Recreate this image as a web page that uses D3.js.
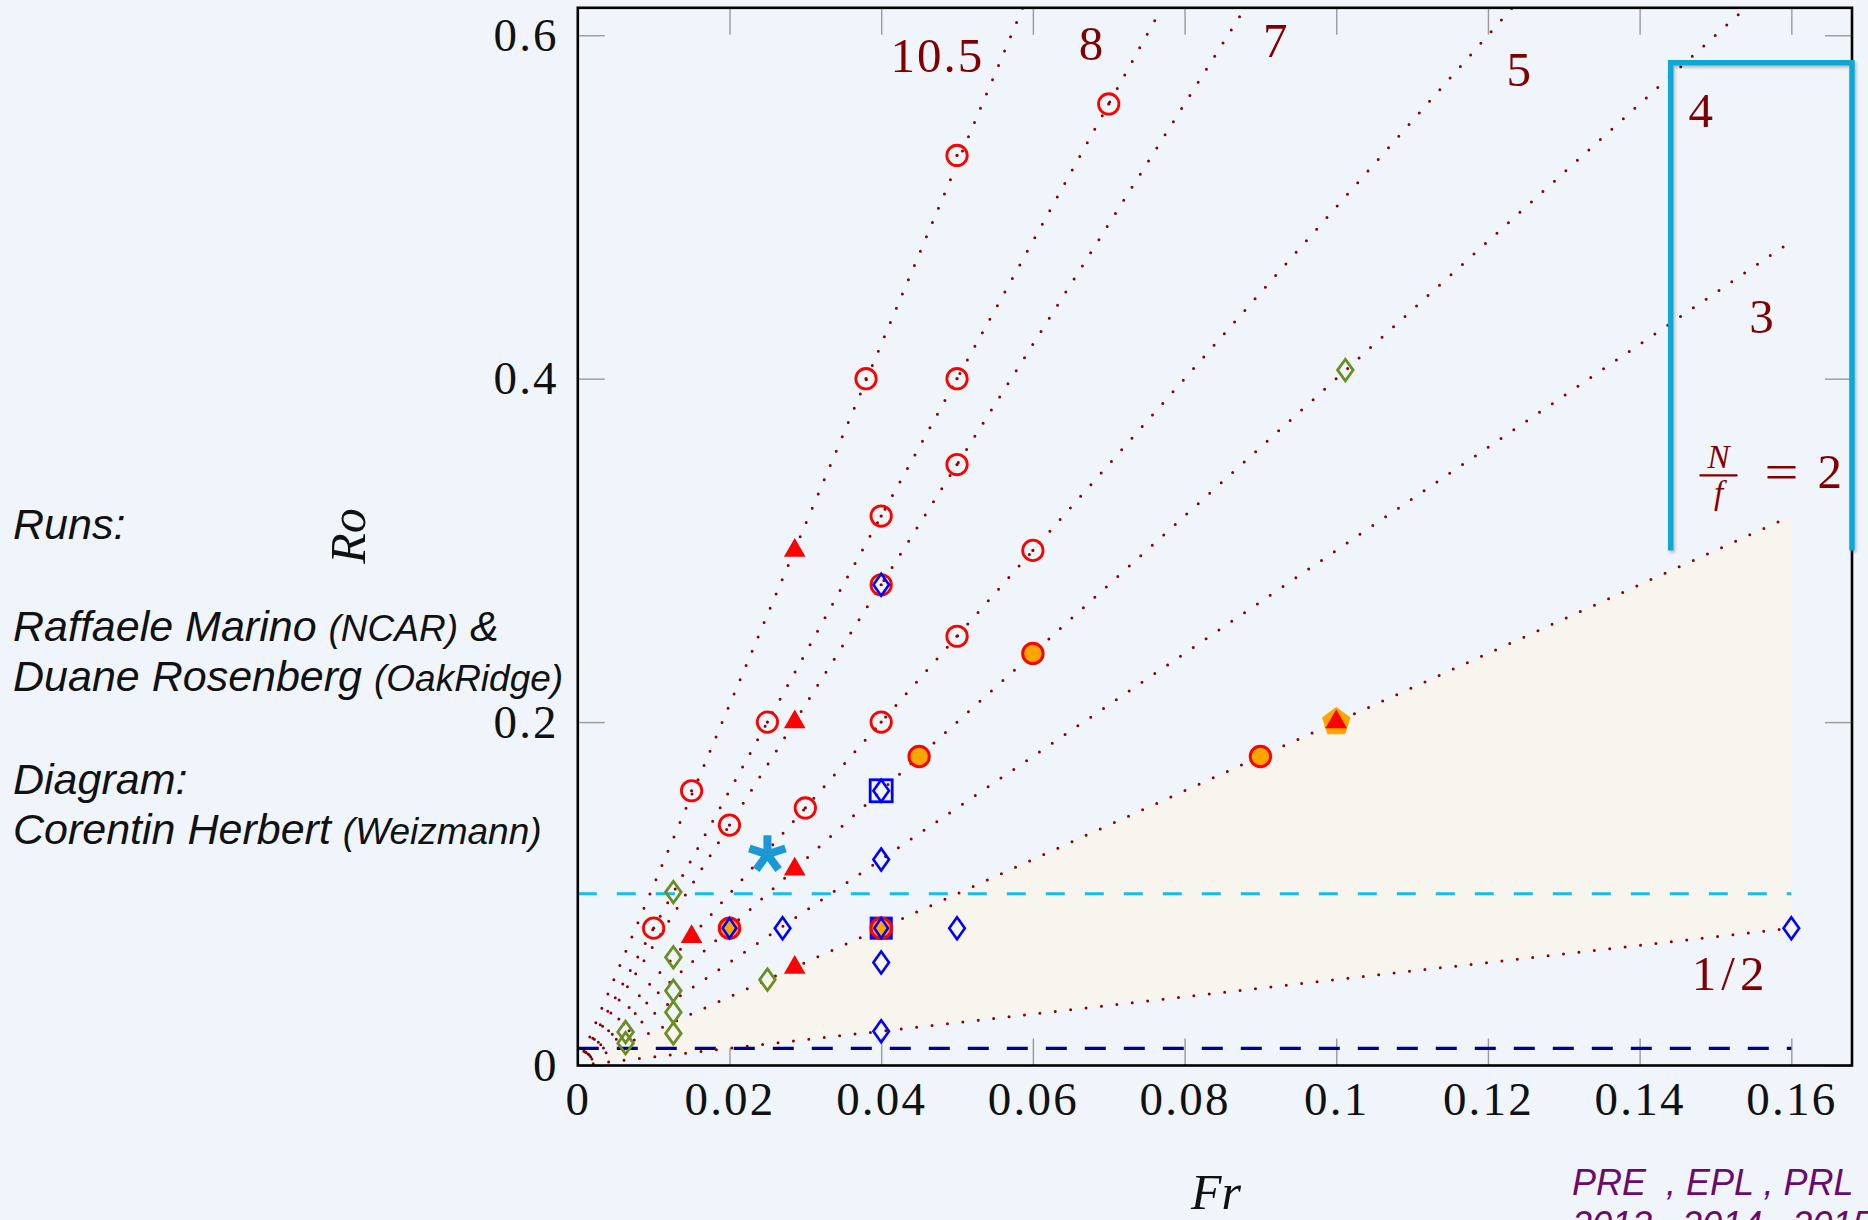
<!DOCTYPE html>
<html><head><meta charset="utf-8">
<script src="https://cdn.jsdelivr.net/npm/d3@7"></script>
<style>
html,body{margin:0;padding:0;background:#eff5fa;}
svg{display:block;}
</style></head><body>
<svg id="chart" width="1868" height="1220"></svg>
<script>
// ---------------- data ----------------
const ratios = [10.5, 8, 7, 5, 4, 3, 2, 0.5];            // N/f lines: Ro = (N/f) * Fr
const ratioLabelText = ["10.5", "8", "7", "5", "4", "3", "N/f = 2", "1/2"];
const ratioLabelFr = [0.0474, 0.0678, 0.0921, 0.1242, 0.1482, 0.1562, 0.1504, 0.152];
const ratioLabelRo = [0.588, 0.595, 0.5965, 0.580, 0.556, 0.436, 0.3437, 0.0534];
const frLineMax = 0.16;
const fillRatios = [0.5, 2];

const xTicks = [0, 0.02, 0.04, 0.06, 0.08, 0.1, 0.12, 0.14, 0.16];
const xTickLabels = ["0", "0.02", "0.04", "0.06", "0.08", "0.1", "0.12", "0.14", "0.16"];
const yTicks = [0, 0.2, 0.4, 0.6];
const yTickLabels = ["0", "0.2", "0.4", "0.6"];

const redOpenCircles = [[0.05,0.53],[0.07,0.56],[0.038,0.4],[0.05,0.4],[0.05,0.35],[0.04,0.32],
  [0.06,0.3],[0.04,0.28],[0.05,0.25],[0.025,0.2],[0.04,0.2],[0.015,0.16],[0.02,0.14],[0.03,0.15],[0.01,0.08]];
const orangeCircles = [[0.06,0.24],[0.045,0.18],[0.09,0.18],[0.02,0.08],[0.04,0.08]];
const redTriangles = [[0.0286,0.3],[0.0286,0.2],[0.0286,0.1143],[0.0286,0.0571],[0.015,0.075],[0.1,0.2]];
const orangePentagons = [[0.1,0.2]];
const blueOpenSquares = [[0.04,0.16]];
const blueFilledSquares = [[0.04,0.08]];
const blueOpenDiamonds = [[0.04,0.28],[0.04,0.16],[0.04,0.12],[0.027,0.08],[0.04,0.06],[0.05,0.08],[0.04,0.02],[0.16,0.08]];
const blueOrangeDiamonds = [[0.02,0.08],[0.04,0.08]];
const greenDiamonds = [[0.1012,0.405],[0.0126,0.101],[0.0126,0.063],[0.0126,0.0435],[0.0126,0.031],
  [0.0126,0.0187],[0.0063,0.0195],[0.0063,0.013],[0.025,0.05]];
const asterisks = [[0.025,0.123]];

const cyanLevel = 0.1;
const navyLevel = 0.01;
const bracketFr = [0.1441, 0.168];
const bracketRo = [0.3, 0.584];

const xDomain = [0, 0.168];
const yDomain = [0, 0.616];

// ---------------- layout ----------------
const svg = d3.select("#chart");
const L = 577.8, R = 1852, T = 7.8, B = 1065.5;
const x = d3.scaleLinear().domain(xDomain).range([L, R]);
const y = d3.scaleLinear().domain(yDomain).range([B, T]);
const serif = "'Liberation Serif', 'Times New Roman', serif";
const sans = "'Liberation Sans', Arial, sans-serif";
const maroon = "#8b0000";

svg.append("rect").attr("width", 1868).attr("height", 1220).attr("fill", "#eff5fa");

const defs = svg.append("defs");
defs.append("clipPath").attr("id", "plotclip").append("rect")
  .attr("x", L).attr("y", T).attr("width", R - L).attr("height", B - T);
const sh = defs.append("filter").attr("id", "shadow").attr("x", "-20%").attr("y", "-5%").attr("width", "140%").attr("height", "110%");
sh.append("feDropShadow").attr("dx", 1.5).attr("dy", 2).attr("stdDeviation", 1.5).attr("flood-color", "#000").attr("flood-opacity", 0.25);

// ---- axes (ticks inside) ----
const TL = 27;
function styleAxis(g) {
  g.select(".domain").remove();
  g.selectAll(".tick line").attr("stroke", "#9a9a9a").attr("stroke-width", 1.4);
  g.selectAll("text").attr("font-family", serif).attr("font-size", 47).attr("fill", "#111")
    .attr("letter-spacing", 2.2);
}
const xb = svg.append("g").attr("transform", `translate(0,${B})`)
  .call(d3.axisBottom(x).tickValues(xTicks).tickFormat((d, i) => xTickLabels[i]).tickSizeInner(-TL).tickSizeOuter(0).tickPadding(16));
styleAxis(xb);
const yl = svg.append("g").attr("transform", `translate(${L},0)`)
  .call(d3.axisLeft(y).tickValues(yTicks).tickFormat((d, i) => yTickLabels[i]).tickSizeInner(-TL).tickSizeOuter(0).tickPadding(19));
styleAxis(yl);
const xt = svg.append("g").attr("transform", `translate(0,${T})`)
  .call(d3.axisTop(x).tickValues(xTicks).tickFormat("").tickSizeInner(-TL).tickSizeOuter(0));
styleAxis(xt);
const yr = svg.append("g").attr("transform", `translate(${R},0)`)
  .call(d3.axisRight(y).tickValues(yTicks).tickFormat("").tickSizeInner(-TL).tickSizeOuter(0));
styleAxis(yr);

const plot = svg.append("g").attr("clip-path", "url(#plotclip)");

// ---- beige fill between N/f = 1/2 and N/f = 2 ----
const fillArea = d3.area()
  .x(d => x(d))
  .y0(d => y(fillRatios[0] * d))
  .y1(d => y(fillRatios[1] * d));
plot.append("path").datum([0, frLineMax]).attr("d", fillArea).attr("fill", "#f8f5ee");

// ---- dashed horizontal levels ----
plot.append("line").attr("x1", x(0)).attr("x2", x(frLineMax)).attr("y1", y(cyanLevel)).attr("y2", y(cyanLevel))
  .attr("stroke", "#14bdf0").attr("stroke-width", 3).attr("stroke-dasharray", "19 20");
plot.append("line").attr("x1", x(0)).attr("x2", x(frLineMax)).attr("y1", y(navyLevel)).attr("y2", y(navyLevel))
  .attr("stroke", "#00008b").attr("stroke-width", 3.4).attr("stroke-dasharray", "21 18");

// ---- dotted N/f lines ----
const lineGen = d3.line().x(d => x(d[0])).y(d => y(d[1]));
plot.selectAll("path.ratio").data(ratios).join("path").attr("class", "ratio")
  .attr("d", r => lineGen([[0, 0], [frLineMax, r * frLineMax]]))
  .attr("fill", "none").attr("stroke", maroon).attr("stroke-width", 3)
  .attr("stroke-linecap", "round").attr("stroke-dasharray", "0 15.5");

// ---- markers ----
const marks = svg.append("g");
const tr = d => `translate(${x(d[0])},${y(d[1])})`;
const diamondPath = (w, h) => `M0,${-h}L${w},0L0,${h}L${-w},0Z`;
const triPath = r => `M0,${-r}L${(r*0.866).toFixed(2)},${r/2}L${(-r*0.866).toFixed(2)},${r/2}Z`;
const polyPath = (n, r) => d3.range(n).map(k => {
  const a = -Math.PI / 2 + k * 2 * Math.PI / n;
  return (k ? "L" : "M") + (r * Math.cos(a)).toFixed(2) + "," + (r * Math.sin(a)).toFixed(2);
}).join("") + "Z";

// blue squares
marks.selectAll("rect.bfs").data(blueFilledSquares).join("rect").attr("class", "bfs")
  .attr("x", d => x(d[0]) - 11).attr("y", d => y(d[1]) - 11).attr("width", 22).attr("height", 22)
  .attr("fill", "#0000ff").attr("stroke", "#0000ff").attr("stroke-width", 1);
marks.selectAll("rect.bos").data(blueOpenSquares).join("rect").attr("class", "bos")
  .attr("x", d => x(d[0]) - 11).attr("y", d => y(d[1]) - 11).attr("width", 22).attr("height", 22)
  .attr("fill", "none").attr("stroke", "#0000ff").attr("stroke-width", 2.8);

// red open circles
marks.selectAll("circle.roc").data(redOpenCircles).join("circle").attr("class", "roc")
  .attr("cx", d => x(d[0])).attr("cy", d => y(d[1])).attr("r", 10.2)
  .attr("fill", "none").attr("stroke", "#ff0000").attr("stroke-width", 2.8);
marks.selectAll("circle.rocd").data(redOpenCircles).join("circle").attr("class", "rocd")
  .attr("cx", d => x(d[0])).attr("cy", d => y(d[1])).attr("r", 1.6).attr("fill", maroon);

// orange circles
marks.selectAll("circle.oc").data(orangeCircles).join("circle").attr("class", "oc")
  .attr("cx", d => x(d[0])).attr("cy", d => y(d[1])).attr("r", 10.2)
  .attr("fill", "#ffa500").attr("stroke", "#ff0000").attr("stroke-width", 3);

// orange pentagons
marks.selectAll("path.pent").data(orangePentagons).join("path").attr("class", "pent")
  .attr("transform", tr).attr("d", polyPath(5, 15)).attr("fill", "#ffa500");

// red triangles
marks.selectAll("path.tri").data(redTriangles).join("path").attr("class", "tri")
  .attr("transform", tr).attr("d", triPath(12.5)).attr("fill", "#ff0000");

// blue diamonds
marks.selectAll("path.bod").data(blueOpenDiamonds).join("path").attr("class", "bod")
  .attr("transform", tr).attr("d", diamondPath(7.8, 11))
  .attr("fill", "none").attr("stroke", "#0000ff").attr("stroke-width", 2.6);
marks.selectAll("path.bfd").data(blueOrangeDiamonds).join("path").attr("class", "bfd")
  .attr("transform", tr).attr("d", diamondPath(6.8, 10))
  .attr("fill", "#ffa500").attr("stroke", "#0000ff").attr("stroke-width", 2.6);

// green diamonds
marks.selectAll("path.gd").data(greenDiamonds).join("path").attr("class", "gd")
  .attr("transform", tr).attr("d", diamondPath(7.8, 10.8))
  .attr("fill", "none").attr("stroke", "#6b8e23").attr("stroke-width", 2.8);

// asterisk
const astArms = d3.range(5).map(k => -Math.PI / 2 + k * 2 * Math.PI / 5);
marks.selectAll("g.ast").data(asterisks).join("g").attr("class", "ast").attr("transform", tr)
  .selectAll("line").data(astArms).join("line")
  .attr("x1", 0).attr("y1", 0)
  .attr("x2", a => 19 * Math.cos(a)).attr("y2", a => 19 * Math.sin(a))
  .attr("stroke", "#1c98d6").attr("stroke-width", 8).attr("stroke-linecap", "butt");

// ---- frame ----
svg.append("rect").attr("x", L).attr("y", T).attr("width", R - L).attr("height", B - T)
  .attr("fill", "none").attr("stroke", "#000").attr("stroke-width", 2.6);

// ---- ratio labels ----
const lab = svg.append("g").attr("fill", "#800000").attr("font-family", serif);
ratioLabelText.forEach((t, i) => {
  const cx = x(ratioLabelFr[i]), cy = y(ratioLabelRo[i]);
  if (t === "N/f = 2") {
    lab.append("text").attr("x", cx).attr("y", cy - 7).attr("text-anchor", "middle")
      .attr("font-size", 33).attr("font-style", "italic").text("N");
    lab.append("text").attr("x", cx).attr("y", cy + 29).attr("text-anchor", "middle")
      .attr("font-size", 33).attr("font-style", "italic").text("f");
    lab.append("line").attr("x1", cx - 19).attr("x2", cx + 19).attr("y1", cy).attr("y2", cy)
      .attr("stroke", "#800000").attr("stroke-width", 2.4);
    const eq = lab.append("text").attr("font-size", 50);
    eq.append("tspan").attr("x", cx + 46).attr("y", cy + 14)
      .attr("textLength", 34).attr("lengthAdjust", "spacingAndGlyphs").text("=");
    eq.append("tspan").attr("x", cx + 99).attr("y", cy + 13).attr("font-size", 49).text("2");
  } else {
    lab.append("text").attr("x", cx).attr("y", cy + 16).attr("text-anchor", "middle")
      .attr("font-size", 49).attr("letter-spacing", t === "1/2" ? 5 : 2).text(t);
  }
});

// ---- bracket ----
svg.append("path")
  .attr("d", `M${x(bracketFr[0])},${y(bracketRo[0])}V${y(bracketRo[1])}H${x(bracketFr[1])}V${y(bracketRo[0])}`)
  .attr("fill", "none").attr("stroke", "#0aa8d6").attr("stroke-width", 5.5).attr("filter", "url(#shadow)");

// ---- axis titles ----
svg.append("text").attr("transform", "translate(365,536) rotate(-90)").attr("text-anchor", "middle")
  .attr("font-family", serif).attr("font-style", "italic").attr("font-size", 50).attr("fill", "#111").text("Ro");
svg.append("text").attr("x", 1216).attr("y", 1209).attr("text-anchor", "middle")
  .attr("font-family", serif).attr("font-style", "italic").attr("font-size", 50).attr("fill", "#111").text("Fr");

// ---- credits ----
const cred = svg.append("g").attr("font-family", sans).attr("font-style", "italic").attr("fill", "#111");
const credLines = [
  [539, [["Runs:", 43]]],
  [641, [["Raffaele Marino ", 43], ["(NCAR)", 37], [" &", 43]]],
  [691, [["Duane Rosenberg ", 43], ["(OakRidge)", 37]]],
  [794, [["Diagram:", 43]]],
  [844, [["Corentin Herbert ", 43], ["(Weizmann)", 37]]]
];
credLines.forEach(([by, parts]) => {
  const t = cred.append("text").attr("x", 13).attr("y", by).attr("xml:space", "preserve").style("white-space", "pre");
  parts.forEach(([s, fs]) => t.append("tspan").attr("font-size", fs).text(s));
});
const pub = svg.append("g").attr("font-family", sans).attr("font-style", "italic").attr("fill", "#6a0a6e").attr("font-size", 36);
pub.append("text").attr("x", 1572).attr("y", 1195).style("white-space", "pre").text("PRE  , EPL , PRL");
pub.append("text").attr("x", 1572).attr("y", 1237).style("white-space", "pre").text("2013 , 2014 , 2015");
</script>
</body></html>
